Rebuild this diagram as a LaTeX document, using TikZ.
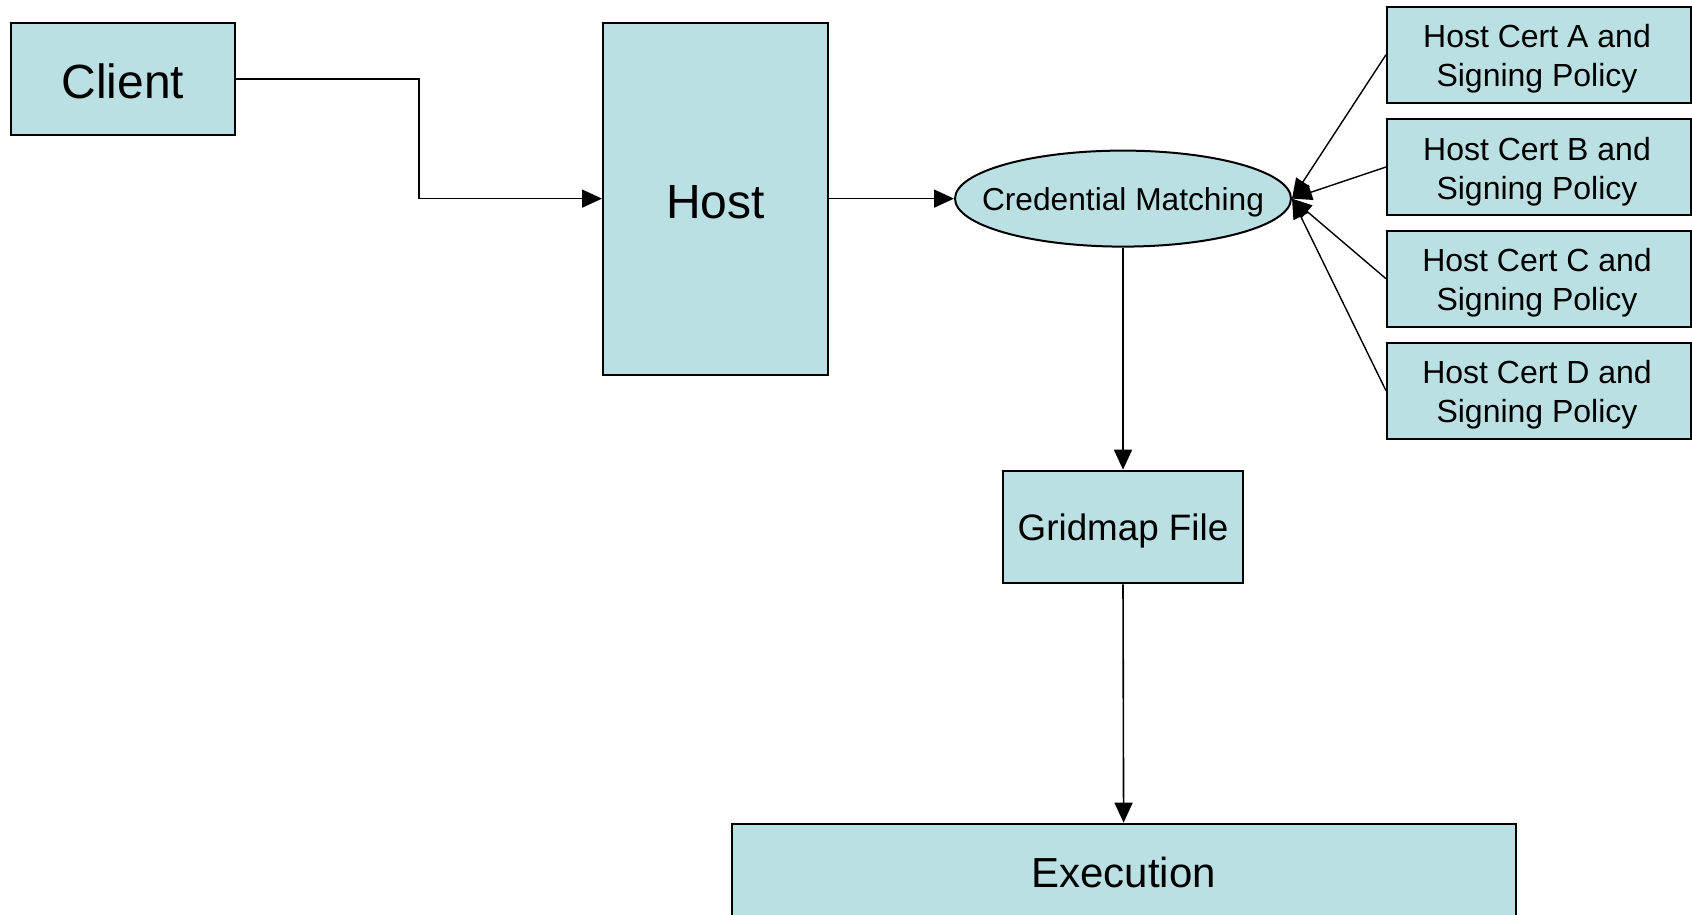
\documentclass[tikz,border=0pt]{standalone}
\usepackage{fontspec}
\setmainfont{Liberation Sans}
\usetikzlibrary{shapes.geometric,arrows.meta}
\definecolor{boxfill}{RGB}{187,224,227}
\begin{document}
\begin{tikzpicture}[x=1pt,y=-1pt,
  box/.style={draw=black,line width=2pt,fill=boxfill,rectangle,inner sep=0pt},
  oval/.style={draw=black,line width=2pt,fill=boxfill,ellipse,inner sep=0pt},
  certbox/.style={box,minimum width=304pt,minimum height=96pt},
  flow/.style={line width=1.6pt,-{Triangle[length=20pt,width=18pt]}},
  feed/.style={line width=1.4pt,-{Triangle[length=20pt,width=16pt]}}]
\useasboundingbox (0,0) rectangle (1692,914);

% main chain
\node[box,minimum width=224pt,minimum height=112pt,
  label={[align=center,yshift=-2.2pt,font=\fontsize{48}{56}\selectfont]center:Client}]
  (client) at (123,78.8) {};
\node[box,minimum width=225pt,minimum height=352pt,
  label={[align=center,yshift=-3.2pt,font=\fontsize{48}{56}\selectfont]center:Host}]
  (host) at (715.5,198.6) {};
\node[oval,minimum width=336pt,minimum height=96pt,
  label={[align=center,yshift=-3.2pt,font=\fontsize{31.7}{38}\selectfont]center:Credential Matching}]
  (match) at (1123,198.6) {};
\node[box,minimum width=240pt,minimum height=112.6pt,
  label={[align=center,yshift=-4.3pt,font=\fontsize{36.8}{44}\selectfont]center:Gridmap File}]
  (gridmap) at (1123,527) {};
\node[box,anchor=north,minimum width=784pt,minimum height=100pt,
  label={[align=center,yshift=1.5pt,font=\fontsize{42}{50}\selectfont]center:Execution}]
  (exec) at (1123.6,822.7) {};

% certificate sources
\foreach \n/\y in {A/54.7,B/167,C/278.7,D/390.7}
  \node[certbox,
    label={[align=center,xshift=-2pt,yshift=-4.3pt,font=\fontsize{32}{39}\selectfont]center:Host Cert \n{} and\\ Signing Policy}]
    (cert\n) at (1539,\y) {};

% connectors
\coordinate (bend) at (419,0);
\draw[flow] (client.east) -- (client.east -| bend) |- (host.west);
\draw[flow] (host.east) -- (match.west);
\draw[flow] (match.south) -- (gridmap.north);
\draw[flow] (gridmap.south) -- (exec.north);
\foreach \c in {A,B,C,D}
  \draw[feed] (cert\c.west) -- (match.east);
\end{tikzpicture}
\end{document}
